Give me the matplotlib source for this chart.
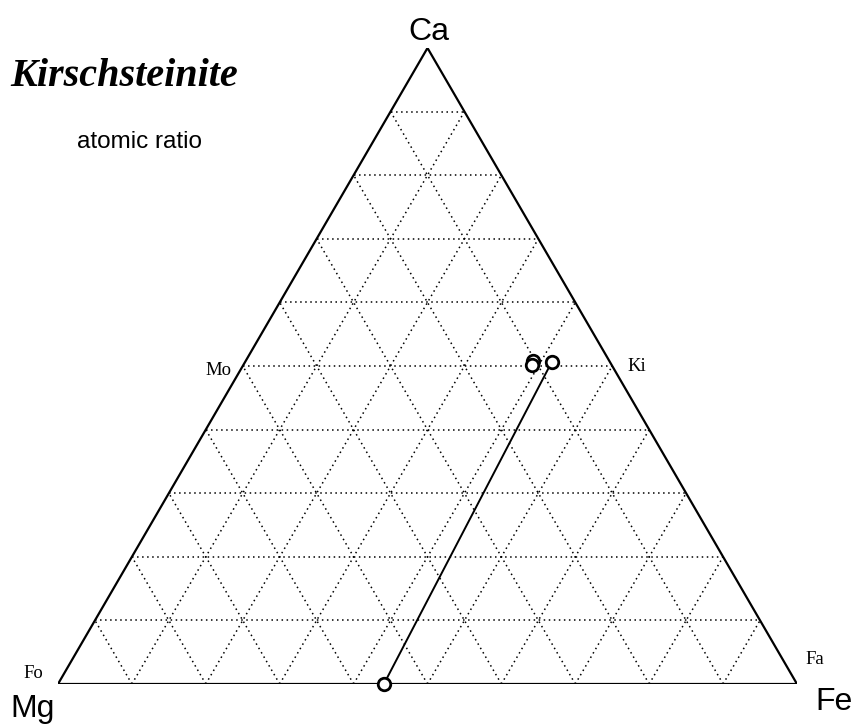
import numpy as np
import matplotlib
matplotlib.use("Agg")
import matplotlib.pyplot as plt

kir_ca = [0.508, 0.502, 0.506]
kir_fe = [0.389, 0.390, 0.415]
ol_ca = [0.0]
ol_fe = [0.441]

# línea de unión kirschsteinita - olivino
tie_ca = [kir_ca[2], ol_ca[0]]
tie_fe = [kir_fe[2], ol_fe[0]]

n_div = 10
H = np.sqrt(3) / 2


def tern(ca, fe):
    ca = np.asarray(ca, dtype=float)
    fe = np.asarray(fe, dtype=float)
    return fe + ca / 2, ca * H


W, Hpx = 854, 724
fig = plt.figure(figsize=(W / 100, Hpx / 100), dpi=100)
ax = fig.add_axes([58 / W, 40 / Hpx, 739 / W, 636 / Hpx])
ax.set_xlim(0, 1)
ax.set_ylim(0, H)
ax.axis("off")

dot = dict(color="black", lw=1.1, linestyle=(0, (1, 2.3)), zorder=1)
for i in range(1, n_div):
    f = i / n_div
    # Ca constante
    x, y = tern([f, f], [0, 1 - f])
    ax.plot(x, y, **dot)
    # Fe constante
    x, y = tern([0, 1 - f], [f, f])
    ax.plot(x, y, **dot)
    # Mg constante
    x, y = tern([0, 1 - f], [1 - f, 0])
    ax.plot(x, y, **dot)

# bordes del triángulo
x, y = tern([0, 0, 1, 0], [0, 1, 0, 0])
ax.plot(x, y, color="black", lw=1.6, zorder=2, solid_joinstyle="miter")

# línea de unión
x, y = tern(tie_ca, tie_fe)
ax.plot(x, y, color="black", lw=1.4, zorder=3)

# puntos
mk = dict(marker="o", ls="none", ms=9, mfc="white", mec="black", mew=2.0,
          zorder=4, clip_on=False)
x, y = tern(kir_ca, kir_fe)
ax.plot(x, y, **mk)
x, y = tern(ol_ca, ol_fe)
ax.plot(x, y, **mk)


def px(xp, yp):
    return xp / W, 1 - yp / Hpx


fig.text(*px(10, 86), "Kirschsteinite", family="Liberation Serif",
         style="italic", weight="bold", fontsize=29, va="baseline", ha="left")
fig.text(*px(77, 148), "atomic ratio", family="Liberation Sans",
         fontsize=17.5, va="baseline", ha="left")

sans = dict(family="Liberation Sans", fontsize=23, va="baseline")
fig.text(*px(429, 40), "Ca", ha="center", **sans)
fig.text(*px(10, 717), "Mg", ha="left", **sans)
fig.text(*px(815, 710), "Fe", ha="left", **sans)

serif = dict(family="Liberation Serif", fontsize=13.5, va="baseline")
fig.text(*px(231, 375), "Mo", ha="right", **serif)
fig.text(*px(627, 371), "Ki", ha="left", **serif)
fig.text(*px(23, 678), "Fo", ha="left", **serif)
fig.text(*px(805, 664), "Fa", ha="left", **serif)

fig.savefig("out.png", dpi=100, facecolor="white")
